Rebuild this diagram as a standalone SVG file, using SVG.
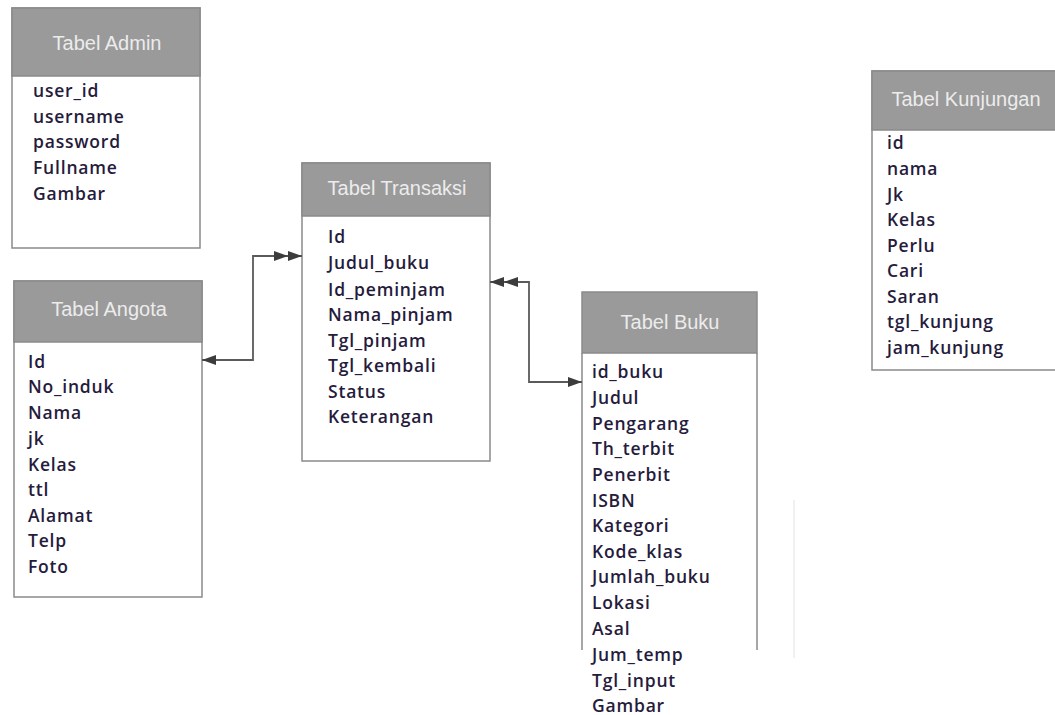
<svg xmlns="http://www.w3.org/2000/svg" width="1055" height="715" viewBox="0 0 1055 715">
  <style>
    .box { fill: #ffffff; stroke: #8a8a8a; stroke-width: 1.5; }
    .head { fill: #9a9a9a; stroke: #8a8a8a; stroke-width: 1.5; }
    .title { font-family: "Liberation Sans", Arial, sans-serif; font-size: 20px; fill: #ececec; text-anchor: middle; }
    .field { font-family: "Open Sans", "DejaVu Sans", sans-serif; font-size: 17.5px; font-weight: 600; fill: #261b3c; letter-spacing: 0.8px; }
    .link { fill: none; stroke: #5a5a5a; stroke-width: 1.8; }
  </style>
  <defs>
    <marker id="arrow" markerUnits="userSpaceOnUse" viewBox="0 0 14 10" refX="14" refY="5" markerWidth="14" markerHeight="10" orient="auto-start-reverse">
      <path d="M0,0 L14,5 L0,10 Z" fill="#3c3c3c"/>
    </marker>
    <marker id="arrow2" markerUnits="userSpaceOnUse" viewBox="0 0 28 10" refX="28" refY="5" markerWidth="28" markerHeight="10" orient="auto-start-reverse">
      <path d="M0,0 L14,5 L0,10 Z M14,0 L28,5 L14,10 Z" fill="#3c3c3c"/>
    </marker>
  </defs>
  <rect width="1055" height="715" fill="#ffffff"/>

  <!-- Admin table -->
  <g id="tabel-admin">
    <rect class="box" x="12" y="8" width="188" height="240"/>
    <rect class="head" x="12" y="8" width="188" height="68"/>
    <text class="title" x="107" y="50">Tabel Admin</text>
    <text class="field" x="33" y="97">user_id</text>
    <text class="field" x="33" y="123">username</text>
    <text class="field" x="33" y="148">password</text>
    <text class="field" x="33" y="174">Fullname</text>
    <text class="field" x="33" y="199.5">Gambar</text>
  </g>

  <!-- Member table -->
  <g id="tabel-angota">
    <rect class="box" x="14" y="281" width="188" height="316"/>
    <rect class="head" x="14" y="281" width="188" height="61"/>
    <text class="title" x="109" y="316">Tabel Angota</text>
    <text class="field" x="28" y="368">Id</text>
    <text class="field" x="28" y="393">No_induk</text>
    <text class="field" x="28" y="419">Nama</text>
    <text class="field" x="28" y="445">jk</text>
    <text class="field" x="28" y="471">Kelas</text>
    <text class="field" x="28" y="496">ttl</text>
    <text class="field" x="28" y="522">Alamat</text>
    <text class="field" x="28" y="547">Telp</text>
    <text class="field" x="28" y="573">Foto</text>
  </g>

  <!-- Transaction table -->
  <g id="tabel-transaksi">
    <rect class="box" x="302" y="163" width="188" height="298"/>
    <rect class="head" x="302" y="163" width="188" height="53"/>
    <text class="title" x="397" y="195">Tabel Transaksi</text>
    <text class="field" x="328" y="243">Id</text>
    <text class="field" x="328" y="269">Judul_buku</text>
    <text class="field" x="328" y="295.5">Id_peminjam</text>
    <text class="field" x="328" y="321">Nama_pinjam</text>
    <text class="field" x="328" y="347">Tgl_pinjam</text>
    <text class="field" x="328" y="372">Tgl_kembali</text>
    <text class="field" x="328" y="398">Status</text>
    <text class="field" x="328" y="423">Keterangan</text>
  </g>

  <!-- Book table (open at the bottom) -->
  <g id="tabel-buku">
    <path d="M582,353 V650 M757,353 V650" fill="none" stroke="#8a8a8a" stroke-width="1.5"/>
    <rect class="head" x="582" y="292" width="175" height="61"/>
    <text class="title" x="670" y="329">Tabel Buku</text>
    <text class="field" x="592" y="378">id_buku</text>
    <text class="field" x="592" y="403.5">Judul</text>
    <text class="field" x="592" y="429.5">Pengarang</text>
    <text class="field" x="592" y="455">Th_terbit</text>
    <text class="field" x="592" y="481">Penerbit</text>
    <text class="field" x="592" y="506.5">ISBN</text>
    <text class="field" x="592" y="532">Kategori</text>
    <text class="field" x="592" y="557.5">Kode_klas</text>
    <text class="field" x="592" y="583">Jumlah_buku</text>
    <text class="field" x="592" y="609">Lokasi</text>
    <text class="field" x="592" y="635">Asal</text>
    <text class="field" x="592" y="661">Jum_temp</text>
    <text class="field" x="592" y="687">Tgl_input</text>
    <text class="field" x="592" y="712">Gambar</text>
  </g>

  <!-- Visit table -->
  <g id="tabel-kunjungan">
    <rect class="box" x="872" y="71" width="190" height="299"/>
    <rect class="head" x="872" y="71" width="190" height="59"/>
    <text class="title" x="966" y="106">Tabel Kunjungan</text>
    <text class="field" x="887" y="149">id</text>
    <text class="field" x="887" y="175">nama</text>
    <text class="field" x="887" y="201">Jk</text>
    <text class="field" x="887" y="226">Kelas</text>
    <text class="field" x="887" y="252">Perlu</text>
    <text class="field" x="887" y="277">Cari</text>
    <text class="field" x="887" y="303">Saran</text>
    <text class="field" x="887" y="328">tgl_kunjung</text>
    <text class="field" x="887" y="354">jam_kunjung</text>
  </g>

  <!-- Relations -->
  <g id="connectors">
    <path class="link" d="M202,360 H253 V256 H302" marker-start="url(#arrow)" marker-end="url(#arrow2)"/>
    <path class="link" d="M490,282 H529 V382 H582" marker-start="url(#arrow2)" marker-end="url(#arrow)"/>
  </g>

  <!-- faint stray rule -->
  <line x1="794" y1="500" x2="794" y2="658" stroke="#e2e2e2" stroke-width="1"/>
</svg>
